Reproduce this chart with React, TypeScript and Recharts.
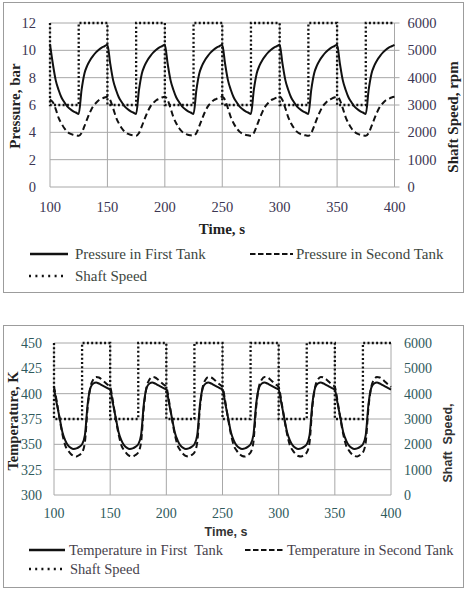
import React from 'react'
import { LineChart, Line, XAxis, YAxis, CartesianGrid } from 'recharts'

// sample times, s (2.5 s step)
const timeS = [
  100, 102.5, 105, 107.5, 110, 112.5, 115, 117.5, 120, 122.5, 125, 127.5, 130, 132.5, 135, 137.5, 140, 142.5, 145, 147.5,
  150, 152.5, 155, 157.5, 160, 162.5, 165, 167.5, 170, 172.5, 175, 177.5, 180, 182.5, 185, 187.5, 190, 192.5, 195, 197.5,
  200, 202.5, 205, 207.5, 210, 212.5, 215, 217.5, 220, 222.5, 225, 227.5, 230, 232.5, 235, 237.5, 240, 242.5, 245, 247.5,
  250, 252.5, 255, 257.5, 260, 262.5, 265, 267.5, 270, 272.5, 275, 277.5, 280, 282.5, 285, 287.5, 290, 292.5, 295, 297.5,
  300, 302.5, 305, 307.5, 310, 312.5, 315, 317.5, 320, 322.5, 325, 327.5, 330, 332.5, 335, 337.5, 340, 342.5, 345, 347.5,
  350, 352.5, 355, 357.5, 360, 362.5, 365, 367.5, 370, 372.5, 375, 377.5, 380, 382.5, 385, 387.5, 390, 392.5, 395, 397.5,
  400,
]

// pressure, bar
const pressureFirstTank = [
  10.45, 9.0, 7.8, 7.1, 6.55, 6.2, 5.9, 5.7, 5.55, 5.45, 5.35, 7.1, 8.3, 8.9, 9.3, 9.6, 9.85, 10.05, 10.2, 10.3,
  10.4, 9.0, 7.8, 7.1, 6.55, 6.2, 5.9, 5.7, 5.55, 5.45, 5.35, 7.1, 8.3, 8.9, 9.3, 9.6, 9.85, 10.05, 10.2, 10.3,
  10.4, 9.0, 7.8, 7.1, 6.55, 6.2, 5.9, 5.7, 5.55, 5.45, 5.35, 7.1, 8.3, 8.9, 9.3, 9.6, 9.85, 10.05, 10.2, 10.3,
  10.4, 9.0, 7.8, 7.1, 6.55, 6.2, 5.9, 5.7, 5.55, 5.45, 5.35, 7.1, 8.3, 8.9, 9.3, 9.6, 9.85, 10.05, 10.2, 10.3,
  10.4, 9.0, 7.8, 7.1, 6.55, 6.2, 5.9, 5.7, 5.55, 5.45, 5.35, 7.1, 8.3, 8.9, 9.3, 9.6, 9.85, 10.05, 10.2, 10.3,
  10.4, 9.0, 7.8, 7.1, 6.55, 6.2, 5.9, 5.7, 5.55, 5.45, 5.35, 7.1, 8.3, 8.9, 9.3, 9.6, 9.85, 10.05, 10.2, 10.3,
  10.4,
]
const pressureSecondTank = [
  6.4, 6.2, 5.7, 5.05, 4.65, 4.3, 4.05, 3.9, 3.82, 3.78, 3.75, 3.95, 4.45, 5.0, 5.5, 5.9, 6.15, 6.35, 6.45, 6.55,
  6.6, 6.35, 5.75, 5.1, 4.65, 4.3, 4.05, 3.9, 3.82, 3.78, 3.75, 3.95, 4.45, 5.0, 5.5, 5.9, 6.15, 6.35, 6.45, 6.55,
  6.6, 6.35, 5.75, 5.1, 4.65, 4.3, 4.05, 3.9, 3.82, 3.78, 3.75, 3.95, 4.45, 5.0, 5.5, 5.9, 6.15, 6.35, 6.45, 6.55,
  6.6, 6.35, 5.75, 5.1, 4.65, 4.3, 4.05, 3.9, 3.82, 3.78, 3.75, 3.95, 4.45, 5.0, 5.5, 5.9, 6.15, 6.35, 6.45, 6.55,
  6.6, 6.35, 5.75, 5.1, 4.65, 4.3, 4.05, 3.9, 3.82, 3.78, 3.75, 3.95, 4.45, 5.0, 5.5, 5.9, 6.15, 6.35, 6.45, 6.55,
  6.6, 6.35, 5.75, 5.1, 4.65, 4.3, 4.05, 3.9, 3.82, 3.78, 3.75, 3.95, 4.45, 5.0, 5.5, 5.9, 6.15, 6.35, 6.45, 6.55,
  6.6,
]

// temperature, K
const tempFirstTank = [
  405, 390, 376, 362, 354, 349, 346.5, 345.5, 346, 347.5, 350, 359, 390, 406, 410, 411, 410, 408.5, 407, 405.5,
  404, 390, 376, 362, 354, 349, 346.5, 345.5, 346, 347.5, 350, 359, 390, 406, 410, 411, 410, 408.5, 407, 405.5,
  404, 390, 376, 362, 354, 349, 346.5, 345.5, 346, 347.5, 350, 359, 390, 406, 410, 411, 410, 408.5, 407, 405.5,
  404, 390, 376, 362, 354, 349, 346.5, 345.5, 346, 347.5, 350, 359, 390, 406, 410, 411, 410, 408.5, 407, 405.5,
  404, 390, 376, 362, 354, 349, 346.5, 345.5, 346, 347.5, 350, 359, 390, 406, 410, 411, 410, 408.5, 407, 405.5,
  404, 390, 376, 362, 354, 349, 346.5, 345.5, 346, 347.5, 350, 359, 390, 406, 410, 411, 410, 408.5, 407, 405.5,
  404,
]
const tempSecondTank = [
  407, 392, 375, 360, 349, 344, 340.5, 338.5, 338, 339.5, 342, 352, 387, 407, 414, 416.5, 416, 414, 411.5, 409,
  406.5, 392, 375, 360, 349, 344, 340.5, 338.5, 338, 339.5, 342, 352, 387, 407, 414, 416.5, 416, 414, 411.5, 409,
  406.5, 392, 375, 360, 349, 344, 340.5, 338.5, 338, 339.5, 342, 352, 387, 407, 414, 416.5, 416, 414, 411.5, 409,
  406.5, 392, 375, 360, 349, 344, 340.5, 338.5, 338, 339.5, 342, 352, 387, 407, 414, 416.5, 416, 414, 411.5, 409,
  406.5, 392, 375, 360, 349, 344, 340.5, 338.5, 338, 339.5, 342, 352, 387, 407, 414, 416.5, 416, 414, 411.5, 409,
  406.5, 392, 375, 360, 349, 344, 340.5, 338.5, 338, 339.5, 342, 352, 387, 407, 414, 416.5, 416, 414, 411.5, 409,
  406.5,
]

// shaft speed steps, rpm
const speedTime = [100, 100, 125, 125, 150, 150, 175, 175, 200, 200, 225, 225, 250, 250, 275, 275, 300, 300, 325, 325, 350, 350, 375, 375, 400]
const speedRpm = [6000, 3000, 3000, 6000, 6000, 3000, 3000, 6000, 6000, 3000, 3000, 6000, 6000, 3000, 3000, 6000, 6000, 3000, 3000, 6000, 6000, 3000, 3000, 6000, 6000]

const timeTicks = [100, 150, 200, 250, 300, 350, 400]
const pressureTicks = [0, 2, 4, 6, 8, 10, 12]
const tempTicks = [300, 325, 350, 375, 400, 425, 450]
const speedTicks = [0, 1000, 2000, 3000, 4000, 5000, 6000]

const pressureRows = timeS.map((t, i) => ({ t, first: pressureFirstTank[i], second: pressureSecondTank[i] }))
const tempRows = timeS.map((t, i) => ({ t, first: tempFirstTank[i], second: tempSecondTank[i] }))
const speedRows = speedTime.map((t, i) => ({ t, rpm: speedRpm[i] }))
// a flat line across the time range at one tick value, used for the horizontal grid
const gridRows = (v: number) => [{ t: 100, g: v }, { t: 400, g: v }]

const SERIF = '"Liberation Serif", "Times New Roman", serif'
const SANS = '"Liberation Sans", Arial, sans-serif'
const GRID = '#a8a8a8'
const INK = '#111'
const DASH = '6 3.5'
const DOTS = '2 2.3'

function Caption({ x, y, rotate = 0, style, children }: any) {
  return (
    <div
      style={{
        position: 'absolute',
        left: x,
        top: y,
        transform: `translate(-50%, -50%) rotate(${rotate}deg)`,
        whiteSpace: 'pre',
        lineHeight: 1,
        ...style,
      }}
    >
      {children}
    </div>
  )
}

function Swatch({ x, y, w, dash, width = 2.2 }: any) {
  return (
    <svg style={{ position: 'absolute', left: x, top: y - 3 }} width={w} height={6}>
      <line x1={0} y1={3} x2={w} y2={3} stroke={INK} strokeWidth={width} strokeDasharray={dash} />
    </svg>
  )
}

function LegendText({ x, y, color, size, children }: any) {
  return (
    <div
      style={{
        position: 'absolute',
        left: x,
        top: y,
        transform: 'translateY(-50%)',
        fontFamily: SERIF,
        fontSize: size,
        color,
        whiteSpace: 'pre',
        lineHeight: 1,
      }}
    >
      {children}
    </div>
  )
}

function gridLines(ticks: number[]) {
  return ticks.map((v) => (
    <Line
      key={`grid-${v}`}
      data={gridRows(v)}
      dataKey="g"
      type="linear"
      stroke={GRID}
      strokeWidth={1}
      dot={false}
      activeDot={false}
      legendType="none"
      isAnimationActive={false}
    />
  ))
}

function PressureChart() {
  const tickStyle = { fontFamily: SERIF, fontSize: 14.5, fill: '#3b3552' }
  return (
    <>
      <div style={{ position: 'absolute', left: 3, top: 2, width: 459, height: 289, border: '1px solid #9c9c9c' }} />
      <div style={{ position: 'absolute', left: 0, top: 0 }}>
        <LineChart width={469} height={300} data={pressureRows} margin={{ top: 23, right: 14.5, left: 10, bottom: 88 }}>
          <CartesianGrid horizontal={false} stroke={GRID} strokeWidth={1} />
          <XAxis
            dataKey="t"
            type="number"
            domain={[100, 400]}
            ticks={timeTicks}
            height={25}
            axisLine={false}
            tickLine={false}
            tickSize={5}
            tickMargin={10}
            tick={tickStyle}
          />
          <YAxis
            domain={[0, 12]}
            ticks={pressureTicks}
            width={40}
            axisLine={false}
            tickLine={false}
            tickSize={5}
            tickMargin={9}
            tick={tickStyle}
          />
          <YAxis
            yAxisId="speed"
            orientation="right"
            domain={[0, 6000]}
            ticks={speedTicks}
            width={60}
            axisLine={false}
            tickLine={{ stroke: GRID }}
            tickSize={5}
            tickMargin={8}
            tick={{ ...tickStyle, textAnchor: 'start' }}
          />
          {gridLines(pressureTicks)}
          <Line dataKey="first" type="monotone" stroke={INK} strokeWidth={2} dot={false} isAnimationActive={false} />
          <Line dataKey="second" type="monotone" stroke={INK} strokeWidth={2} strokeDasharray={DASH} dot={false} isAnimationActive={false} />
          <Line yAxisId="speed" data={speedRows} dataKey="rpm" type="linear" stroke={INK} strokeWidth={2.3} strokeDasharray={DOTS} dot={false} isAnimationActive={false} />
        </LineChart>
      </div>
      <Caption x={15} y={106} rotate={-90} style={{ fontFamily: SERIF, fontWeight: 'bold', fontSize: 15, color: '#222' }}>
        Pressure, bar
      </Caption>
      <Caption x={453} y={117} rotate={-90} style={{ fontFamily: SERIF, fontWeight: 'bold', fontSize: 15, color: '#222' }}>
        Shaft Speed, rpm
      </Caption>
      <Caption x={222} y={229} style={{ fontFamily: SERIF, fontWeight: 'bold', fontSize: 15, color: '#222' }}>
        Time, s
      </Caption>
      <Swatch x={30} y={254} w={38} width={2.4} />
      <LegendText x={75} y={254} color="#3d4640" size={15}>Pressure in First Tank</LegendText>
      <Swatch x={250} y={254} w={43} dash="5.5 2.5" />
      <LegendText x={296} y={254} color="#3d4640" size={15}>Pressure in Second Tank</LegendText>
      <Swatch x={29} y={276} w={38} dash="2 4.4" width={2.4} />
      <LegendText x={75} y={276} color="#3d4640" size={15}>Shaft Speed</LegendText>
    </>
  )
}

function TemperatureChart() {
  const tickStyle = { fontFamily: SERIF, fontSize: 14, fill: '#2f5a5c' }
  return (
    <>
      <div style={{ position: 'absolute', left: 3, top: 325, width: 459, height: 261, border: '1px solid #9c9c9c' }} />
      <div style={{ position: 'absolute', left: 0, top: 300 }}>
        <LineChart width={469} height={293} data={tempRows} margin={{ top: 43, right: 18, left: 10, bottom: 73 }}>
          <CartesianGrid horizontal={false} stroke={GRID} strokeWidth={1} />
          <XAxis
            dataKey="t"
            type="number"
            domain={[100, 400]}
            ticks={timeTicks}
            height={25}
            axisLine={false}
            tickLine={false}
            tickSize={5}
            tickMargin={8.5}
            tick={tickStyle}
          />
          <YAxis
            domain={[300, 450]}
            ticks={tempTicks}
            width={44}
            axisLine={false}
            tickLine={false}
            tickSize={4}
            tickMargin={8}
            tick={tickStyle}
          />
          <YAxis
            yAxisId="speed"
            orientation="right"
            domain={[0, 6000]}
            ticks={speedTicks}
            width={60}
            axisLine={false}
            tickLine={false}
            tickSize={5}
            tickMargin={8}
            tick={{ ...tickStyle, textAnchor: 'start' }}
          />
          {gridLines(tempTicks)}
          <Line dataKey="first" type="monotone" stroke={INK} strokeWidth={2} dot={false} isAnimationActive={false} />
          <Line dataKey="second" type="monotone" stroke={INK} strokeWidth={2} strokeDasharray={DASH} dot={false} isAnimationActive={false} />
          <Line yAxisId="speed" data={speedRows} dataKey="rpm" type="linear" stroke={INK} strokeWidth={2.3} strokeDasharray={DOTS} dot={false} isAnimationActive={false} />
        </LineChart>
      </div>
      <Caption x={13} y={421} rotate={-90} style={{ fontFamily: SERIF, fontWeight: 'bold', fontSize: 14.5, color: '#222' }}>
        Temperature, K
      </Caption>
      <Caption x={448} y={443} rotate={-90} style={{ fontFamily: SANS, fontWeight: 'bold', fontSize: 12.5, color: '#333' }}>
        {'Shaft  Speed,'}
      </Caption>
      <Caption x={226} y={532} style={{ fontFamily: SANS, fontWeight: 'bold', fontSize: 12.5, color: '#333' }}>
        Time, s
      </Caption>
      <Swatch x={29} y={550} w={36} width={2.4} />
      <LegendText x={69} y={550} color="#473f4c" size={14.5}>{'Temperature in First  Tank'}</LegendText>
      <Swatch x={245} y={550} w={38} dash="5.5 2.5" />
      <LegendText x={287} y={550} color="#473f4c" size={14.5}>Temperature in Second Tank</LegendText>
      <Swatch x={29} y={569} w={35} dash="2 4.2" width={2.4} />
      <LegendText x={70} y={569} color="#473f4c" size={14.5}>Shaft Speed</LegendText>
    </>
  )
}

export default function App() {
  return (
    <div style={{ position: 'absolute', left: 0, top: 0, width: 469, height: 593, background: '#fff' }}>
      <PressureChart />
      <TemperatureChart />
    </div>
  )
}
